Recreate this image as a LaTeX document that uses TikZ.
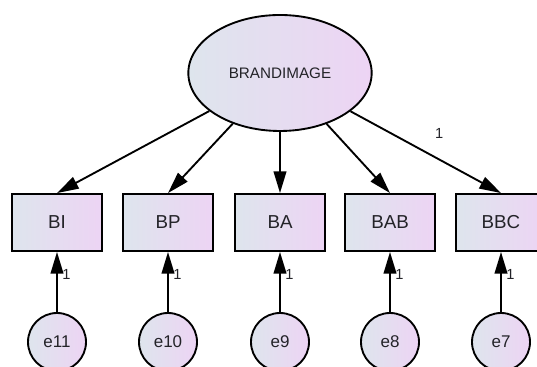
\documentclass[tikz,border=0pt]{standalone}
\usepackage{fontspec}
\setmainfont{Liberation Sans}
\usepackage{xcolor}
\usetikzlibrary{shapes.geometric, arrows.meta, positioning}

\definecolor{shadeleft}{RGB}{222,229,237}
\definecolor{shaderight}{RGB}{237,212,244}
\definecolor{textgray}{RGB}{35,35,40}

\begin{document}
\begin{tikzpicture}[
  latent/.style={ellipse, draw, line width=1.6pt, left color=shadeleft, right color=shaderight,
    minimum width=5.5cm, minimum height=3.48cm, inner sep=0pt, text=textgray,
    font=\fontsize{13}{15}\selectfont},
  observed/.style={rectangle, draw, line width=1.6pt, left color=shadeleft, right color=shaderight,
    minimum width=2.7cm, minimum height=1.71cm, inner sep=0pt, text=textgray,
    font=\fontsize{16}{18}\selectfont},
  errterm/.style={circle, draw, line width=1.6pt, left color=shadeleft, right color=shaderight,
    minimum size=1.74cm, inner sep=0pt, text=textgray,
    font=\fontsize{14.5}{16}\selectfont},
  regpath/.style={line width=1.6pt, -{Triangle[length=0.65cm, width=0.38cm]}},
  weight/.style={inner sep=0pt, text=textgray, font=\fontsize{12.5}{14}\selectfont}
]
\useasboundingbox (0,0) rectangle (16.11,11.01);
% Latent factor
\node[latent] (brand) at (8.4,8.82) {BRANDIMAGE};
% Indicators
\node[observed] (bi) at (1.71,4.335) {BI};
\node[observed] (bp) at (5.04,4.335) {BP};
\node[observed] (ba) at (8.4,4.335) {BA};
\node[observed] (bab) at (11.7,4.335) {BAB};
\node[observed] (bbc) at (15.03,4.335) {BBC};
% Error terms
\node[errterm] (e11) at (1.71,0.75) {e11};
\node[errterm] (e10) at (5.04,0.75) {e10};
\node[errterm] (e9) at (8.4,0.75) {e9};
\node[errterm] (e8) at (11.7,0.75) {e8};
\node[errterm] (e7) at (15.03,0.75) {e7};
% Loadings
\draw[regpath] (brand) -- (bi.north);
\draw[regpath] (brand) -- (bp.north);
\draw[regpath] (brand) -- (ba.north);
\draw[regpath] (brand) -- (bab.north);
\draw[regpath] (brand) -- node[weight, pos=0.59, above=0.6cm] {1} (bbc.north);
% Error paths
\draw[regpath] (e11) -- node[weight, pos=0.63, right=0.13cm] {1} (bi);
\draw[regpath] (e10) -- node[weight, pos=0.63, right=0.13cm] {1} (bp);
\draw[regpath] (e9) -- node[weight, pos=0.63, right=0.13cm] {1} (ba);
\draw[regpath] (e8) -- node[weight, pos=0.63, right=0.13cm] {1} (bab);
\draw[regpath] (e7) -- node[weight, pos=0.63, right=0.13cm] {1} (bbc);
\end{tikzpicture}
\end{document}
